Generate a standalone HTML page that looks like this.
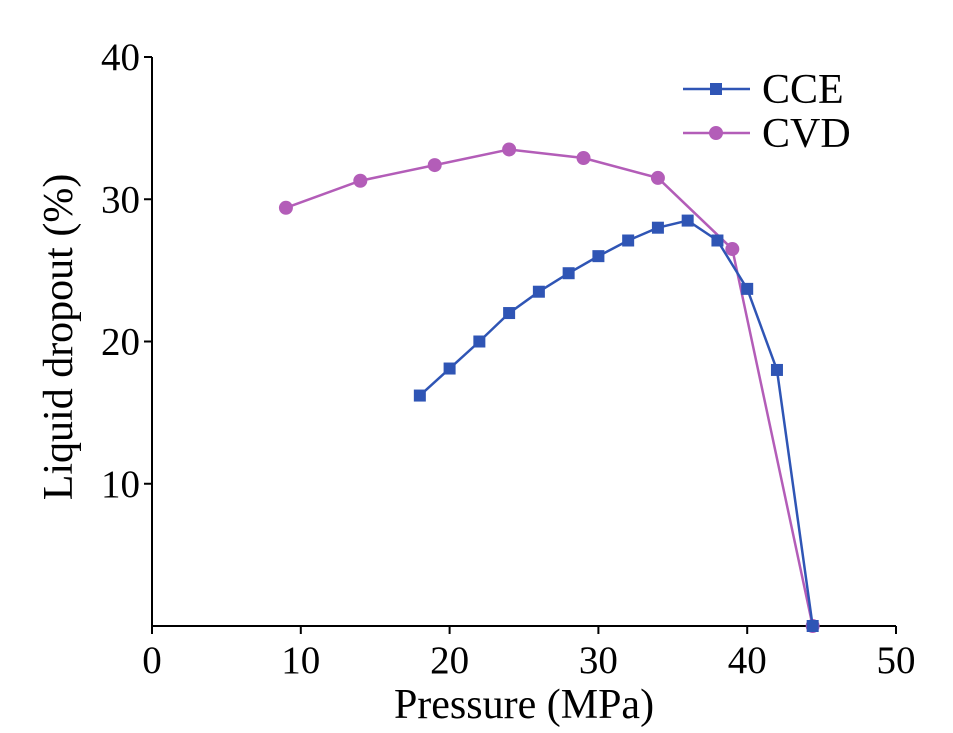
<!DOCTYPE html>
<html><head><meta charset="utf-8"><style>
html,body{margin:0;padding:0;background:#fff;}
svg{display:block;font-family:"Liberation Serif",serif;}
</style></head><body>
<svg id="chart" width="953" height="733" viewBox="0 0 953 733">
<g id="axes"></g>
<g id="series"></g>
<g id="legend"></g>
</svg>
<script>
const xTicks = [0,10,20,30,40,50];
const yTicks = [10,20,30,40];
const cceX = [18,20,22,24,26,28,30,32,34,36,38,40,42,44.4];
const cceY = [16.2,18.1,20.0,22.0,23.5,24.8,26.0,27.1,28.0,28.5,27.1,23.7,18.0,0];
const cvdX = [9,14,19,24,29,34,39,44.4];
const cvdY = [29.4,31.3,32.4,33.5,32.9,31.5,26.5,0];
const NS='http://www.w3.org/2000/svg';
const X0=152,X1=896,Y0=626,Y1=57;
const sx=v=>X0+(v-0)/(50-0)*(X1-X0);
const sy=v=>Y0-(v-0)/(40-0)*(Y0-Y1);
function mk(t,a,p){const e=document.createElementNS(NS,t);for(const k in a)e.setAttribute(k,a[k]);p.appendChild(e);return e;}
const ax=document.getElementById('axes');
let l=mk('line',{x1:X0,y1:Y0,x2:X1,y2:Y0,stroke:'#000','stroke-width':2},ax);


l=mk('line',{x1:X0,y1:Y0,x2:X0,y2:Y1,stroke:'#000','stroke-width':2},ax);


xTicks.forEach(v=>{
  const t=mk('line',{x1:sx(v),y1:Y0,x2:sx(v),y2:Y0+8,stroke:'#000','stroke-width':2},ax);
  
  
  const tx=mk('text',{x:sx(v),y:Y0+47,'text-anchor':'middle','font-size':39},ax);tx.textContent=v;
  
  
});
yTicks.forEach(v=>{
  const t=mk('line',{x1:X0,y1:sy(v),x2:X0-8,y2:sy(v),stroke:'#000','stroke-width':2},ax);
  
  
  const tx=mk('text',{x:X0-12,y:sy(v)+13,'text-anchor':'end','font-size':39},ax);tx.textContent=v;
  
  
});
let tt=mk('text',{x:524,y:718,'text-anchor':'middle','font-size':42},ax);tt.textContent='Pressure (MPa)';


tt=mk('text',{x:0,y:0,'text-anchor':'middle','font-size':42,transform:'translate(72,337) rotate(-90)'},ax);tt.textContent='Liquid dropout (%)';


const sg=document.getElementById('series');
function series(xs,ys,col,shape,name){
  const pl=mk('polyline',{points:xs.map((x,i)=>sx(x)+','+sy(ys[i])).join(' '),fill:'none',stroke:col,'stroke-width':2.5},sg);
  
  
  xs.forEach((x,i)=>{
    let m;
    if(shape==='sq') m=mk('rect',{x:sx(x)-6,y:sy(ys[i])-6,width:12,height:12,fill:col},sg);
    else m=mk('circle',{cx:sx(x),cy:sy(ys[i]),r:7,fill:col},sg);
    
    
  });
}
series(cvdX,cvdY,'#b35db8','c','cvd');
series(cceX,cceY,'#2f55b5','sq','cce');
const lg=document.getElementById('legend');
[['CCE','#2f55b5','sq',89],['CVD','#b35db8','c',133]].forEach(([n,c,s,y])=>{
  const ln=mk('line',{x1:683,y1:y,x2:750,y2:y,stroke:c,'stroke-width':2.5},lg);
  
  
  let m= s==='sq'?mk('rect',{x:710,y:y-6,width:12,height:12,fill:c},lg):mk('circle',{cx:716,cy:y,r:7,fill:c},lg);
  
  
  const t=mk('text',{x:762,y:y+14,'font-size':42},lg);t.textContent=n;
  
  
});
</script>
</body></html>
